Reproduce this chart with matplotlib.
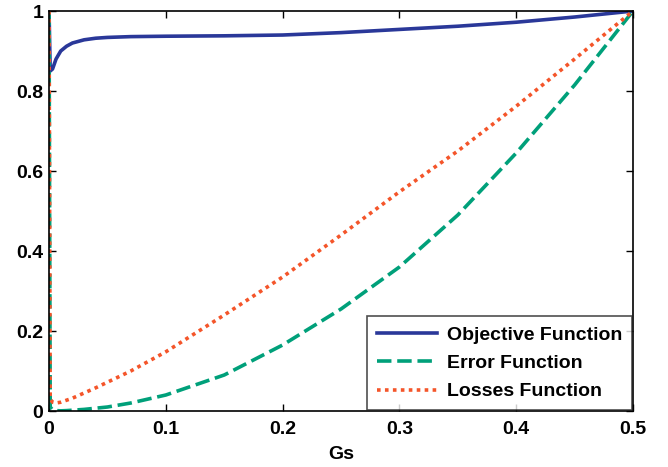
import numpy as np
import matplotlib.pyplot as plt

plt.rcParams['font.family'] = ['Liberation Sans', 'DejaVu Sans']
plt.rcParams['font.weight'] = 'bold'

# values
gs = [0.0, 0.001, 0.003, 0.006, 0.01, 0.015, 0.02, 0.03, 0.04, 0.05, 0.07, 0.1,
      0.15, 0.2, 0.25, 0.3, 0.35, 0.4, 0.45, 0.5]
objective = [1.0, 0.85, 0.855, 0.88, 0.9, 0.912, 0.92, 0.928, 0.932, 0.934, 0.936, 0.937,
             0.938, 0.94, 0.946, 0.954, 0.962, 0.972, 0.985, 1.0]
error = [1.0, 0.01, 0.003, 0.001, 0.0004, 0.001, 0.002, 0.004, 0.007, 0.01, 0.02, 0.04,
         0.09, 0.165, 0.255, 0.36, 0.49, 0.645, 0.815, 1.0]
losses = [1.0, 0.03, 0.022, 0.02, 0.022, 0.027, 0.032, 0.045, 0.058, 0.072, 0.1, 0.148,
          0.24, 0.335, 0.44, 0.548, 0.65, 0.762, 0.88, 1.0]

fig = plt.figure(figsize=(6.68, 4.67), dpi=100)
ax = fig.add_axes([0.0734, 0.1199, 0.8742, 0.8565])

ax.plot(gs, objective, color='#2a3899', lw=2.6, label='Objective Function')
ax.plot(gs, error, color='#00a07a', lw=2.6, ls=(0, (4, 1.6)), label='Error Function')
ax.plot(gs, losses, color='#f4552a', lw=2.6, ls=(0, (1, 1.2)), label='Losses Function')

ax.set_xlim(0, 0.5)
ax.set_ylim(0, 1)
ax.set_xticks([0, 0.1, 0.2, 0.3, 0.4, 0.5])
ax.set_xticklabels(['0', '0.1', '0.2', '0.3', '0.4', '0.5'])
ax.set_yticks([0, 0.2, 0.4, 0.6, 0.8, 1])
ax.set_yticklabels(['0', '0.2', '0.4', '0.6', '0.8', '1'])
ax.tick_params(direction='in', top=True, right=True, labelsize=14, length=5, width=1)
ax.tick_params(axis='x', pad=7)
ax.tick_params(axis='y', pad=4)
for s in ax.spines.values():
    s.set_linewidth(1.2)
ax.set_xlabel('Gs', fontsize=14, fontweight='bold', labelpad=6)

leg = ax.legend(loc='lower right', fontsize=14, frameon=True, fancybox=False,
                edgecolor='#222222', borderpad=0.5, handlelength=3.1,
                borderaxespad=0.05, labelspacing=0.55, handletextpad=0.5)
leg.get_frame().set_linewidth(1.2)

fig.savefig('out.png', dpi=100)
